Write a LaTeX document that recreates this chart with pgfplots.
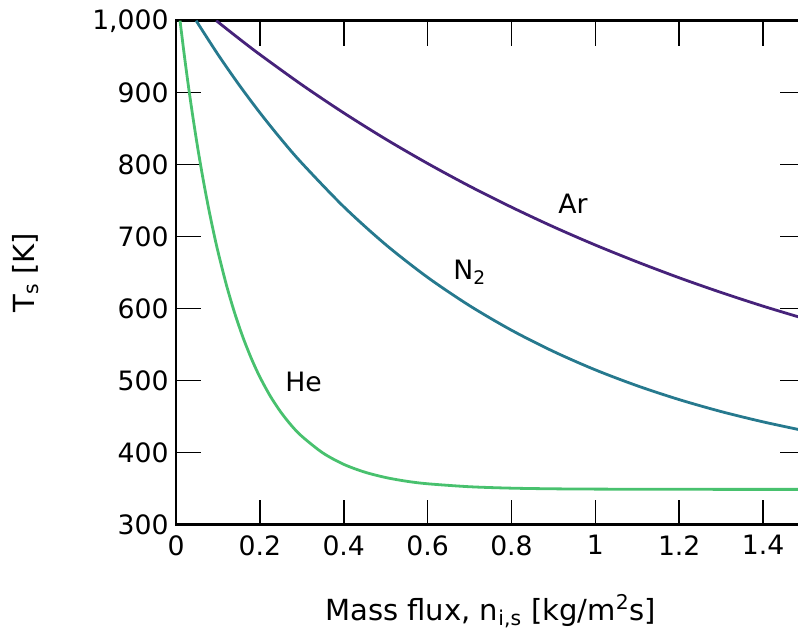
\documentclass[border=0pt]{standalone}
\usepackage{fontspec}
\setmainfont{DejaVu Sans}
\usepackage{pgfplots}
\pgfplotsset{compat=1.18}
\definecolor{arcol}{HTML}{46227A}
\definecolor{nitcol}{HTML}{26798E}
\definecolor{hecol}{HTML}{48C16E}

\begin{document}
\begin{tikzpicture}
    \begin{axis}[
        at={(0pt,0pt)}, anchor=south west,
        scale only axis,
        width=471.75pt, height=378pt,
        xmin=0, xmax=1.5,
        ymin=300, ymax=1000,
        xtick={0,0.2,0.4,0.6,0.8,1,1.2,1.4},
        ytick={300,400,500,600,700,800,900,1000},
        /pgf/number format/assume math mode=true,
        /pgf/number format/1000 sep={,},
        tick align=inside,
        xtick pos=both, ytick pos=both,
        major tick length=18.75pt,
        major tick style={line width=1.2pt, black},
        axis line style={line width=2pt},
        tick label style={font=\fontsize{20}{24}\selectfont},
        yticklabel style={xshift=-2pt},
        xticklabel style={yshift=-4.5pt},
        label style={font=\fontsize{21.8}{26}\selectfont},
        xlabel={Mass flux, n\textsubscript{i,s} [kg/m\textsuperscript{2}s]},
        ylabel={T\textsubscript{s} [K]},
        xlabel style={at={(axis description cs:0.5,0)}, anchor=base, yshift=-71.5pt},
        ylabel style={at={(axis description cs:-0.2385,0.5)}, anchor=center},
        every axis plot/.append style={smooth, line width=2.1pt},
    ]
    % Ar
    \addplot[color=arcol] coordinates {
        (0.096,1000) (0.15,975.2) (0.2,953.0) (0.3,911.0) (0.4,871.9)
        (0.5,835.5) (0.6,801.7) (0.7,770.2) (0.8,741.0) (0.9,713.7)
        (1.0,688.4) (1.1,664.9) (1.2,642.9) (1.3,622.5) (1.4,603.5)
        (1.5,585.9)
    };
    % N2
    \addplot[color=nitcol] coordinates {
        (0.048,1000) (0.1,953.1) (0.15,911.2) (0.2,872.2) (0.25,835.9)
        (0.3,802.2) (0.4,741.6) (0.5,689.0) (0.6,643.5) (0.7,604.2)
        (0.8,570.1) (0.9,540.6) (1.0,515.0) (1.1,492.9) (1.2,473.7)
        (1.3,457.1) (1.4,442.8) (1.5,430.3)
    };
    % He
    \addplot[color=hecol] coordinates {
        (0.0096,1000) (0.02,951.2) (0.03,907.6) (0.04,867.3) (0.05,829.8)
        (0.06,795.1) (0.07,762.8) (0.08,733.0) (0.09,705.2) (0.1,679.5)
        (0.12,633.4) (0.14,593.8) (0.16,559.7) (0.18,530.4) (0.2,505.1)
        (0.225,478.4) (0.25,456.3) (0.275,437.9) (0.3,422.8) (0.35,399.7)
        (0.4,383.8) (0.45,373.0) (0.5,365.5) (0.55,360.3) (0.6,356.8)
        (0.7,352.7) (0.8,350.7) (0.9,349.8) (1.0,349.4) (1.2,349.1)
        (1.5,349.0)
    };
    \node[anchor=base west, inner sep=0pt, font=\fontsize{20}{24}\selectfont] at (axis cs:0.911,732.5) {Ar};
    \node[anchor=base west, inner sep=0pt, font=\fontsize{20}{24}\selectfont] at (axis cs:0.661,639.9) {N\textsubscript{2}};
    \node[anchor=base west, inner sep=0pt, font=\fontsize{20}{24}\selectfont] at (axis cs:0.260,484.7) {He};
    \end{axis}
    \pgfresetboundingbox
    \path[use as bounding box] (-132pt,-80.5pt) rectangle (466.5pt,393.5pt);
\end{tikzpicture}
\end{document}
